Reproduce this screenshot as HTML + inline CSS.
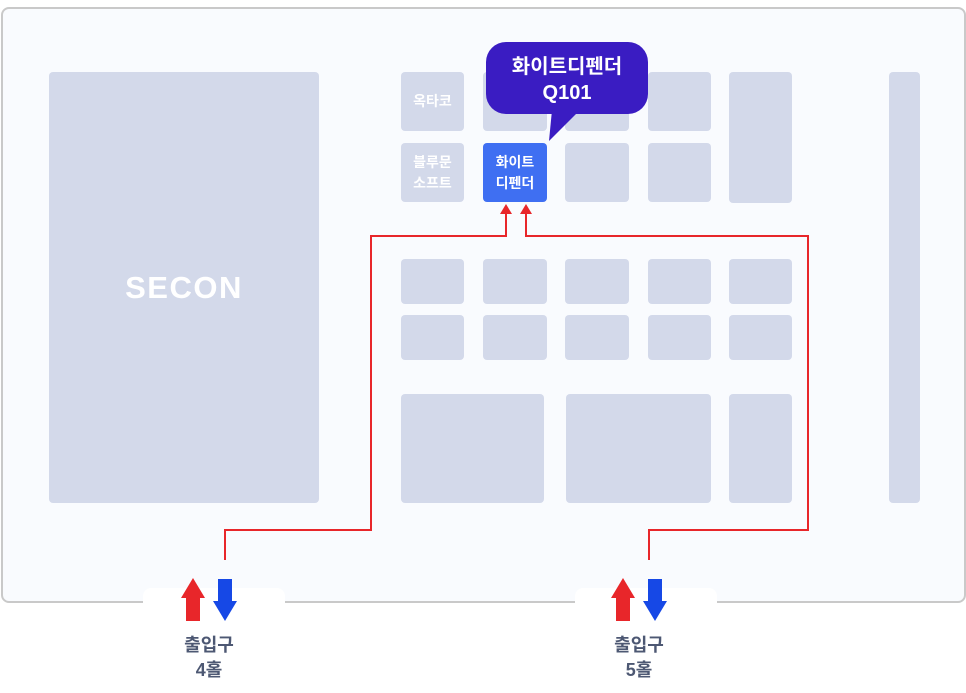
<!DOCTYPE html>
<html><head><meta charset="utf-8"><style>
body{margin:0;width:966px;height:693px;background:#fff;position:relative;overflow:hidden;font-family:"Liberation Sans","Noto Sans CJK KR",sans-serif}
.o{position:absolute;left:1px;top:7px;width:961px;height:592px;border:2px solid #c9c9c9;border-radius:8px;background:#f9fbfe}
.b{position:absolute;background:#d3d9ea;border-radius:4px;color:#fff;font-weight:bold;display:flex;align-items:center;justify-content:center;text-align:center;font-size:14px;line-height:21px;font-family:"Noto Sans CJK KR","Liberation Sans",sans-serif}
.g{position:absolute;top:588px;height:20px;background:#fff;border-radius:8px 8px 0 0}
.t{position:absolute;width:100px;text-align:center;color:#4d5873;font-weight:bold;font-size:18px;line-height:25px}
</style></head><body>
<div class="o"></div>
<div class="g" style="left:143px;width:142px"></div>
<div class="g" style="left:575px;width:142px"></div>
<div class="b" style="left:49px;top:72px;width:270px;height:431px;font-size:31px;letter-spacing:1.5px;font-family:'Liberation Sans',sans-serif">SECON</div>
<div class="b" style="left:889px;top:72px;width:31px;height:431px"></div>
<div class="b" style="left:401px;top:72px;width:63px;height:59px">옥타코</div>
<div class="b" style="left:483px;top:72px;width:64px;height:59px"></div>
<div class="b" style="left:565px;top:72px;width:64px;height:59px"></div>
<div class="b" style="left:648px;top:72px;width:63px;height:59px"></div>
<div class="b" style="left:729px;top:72px;width:63px;height:131px"></div>
<div class="b" style="left:401px;top:143px;width:63px;height:59px">블루문<br>소프트</div>
<div class="b" style="left:483px;top:143px;width:64px;height:59px;background:#3f6ff2">화이트<br>디펜더</div>
<div class="b" style="left:565px;top:143px;width:64px;height:59px"></div>
<div class="b" style="left:648px;top:143px;width:63px;height:59px"></div>
<div class="b" style="left:401px;top:259px;width:63px;height:45px"></div>
<div class="b" style="left:483px;top:259px;width:64px;height:45px"></div>
<div class="b" style="left:565px;top:259px;width:64px;height:45px"></div>
<div class="b" style="left:648px;top:259px;width:63px;height:45px"></div>
<div class="b" style="left:729px;top:259px;width:63px;height:45px"></div>
<div class="b" style="left:401px;top:315px;width:63px;height:45px"></div>
<div class="b" style="left:483px;top:315px;width:64px;height:45px"></div>
<div class="b" style="left:565px;top:315px;width:64px;height:45px"></div>
<div class="b" style="left:648px;top:315px;width:63px;height:45px"></div>
<div class="b" style="left:729px;top:315px;width:63px;height:45px"></div>
<div class="b" style="left:401px;top:394px;width:143px;height:109px"></div>
<div class="b" style="left:566px;top:394px;width:145px;height:109px"></div>
<div class="b" style="left:729px;top:394px;width:63px;height:109px"></div>
<svg width="966" height="693" style="position:absolute;left:0;top:0">
<path d="M552 110 L549 141 L580 110 Z" fill="#3a1cc2"/>
<rect x="486" y="42" width="162" height="72" rx="20" fill="#3a1cc2"/>
<text x="567" y="73" fill="#fff" font-size="20" font-weight="bold" text-anchor="middle" font-family="Liberation Sans,Noto Sans CJK KR,sans-serif">화이트디펜더</text>
<text x="567" y="99" fill="#fff" font-size="20" font-weight="bold" text-anchor="middle" font-family="Liberation Sans,Noto Sans CJK KR,sans-serif">Q101</text>
<g fill="none" stroke="#e8262a" stroke-width="2">
<path d="M225 560 V530 H371 V236 H506 V214"/>
<path d="M649 560 V530 H808 V236 H526 V214"/>
</g>
<g fill="#e8262a">
<path d="M500 214 L506 204 L512 214 Z"/><path d="M520 214 L526 204 L532 214 Z"/>
<path d="M186 621 V598 H181 L193 578 L205 598 H200 V621 Z"/>
<path d="M616 621 V598 H611 L623 578 L635 598 H630 V621 Z"/>
</g>
<g fill="#1648e6">
<path d="M218 579 V601 H213 L225 621 L237 601 H232 V579 Z"/>
<path d="M648 579 V601 H643 L655 621 L667 601 H662 V579 Z"/>
</g>
</svg>
<div class="t" style="left:159px;top:633px">출입구<br>4홀</div>
<div class="t" style="left:589px;top:633px">출입구<br>5홀</div>
</body></html>
